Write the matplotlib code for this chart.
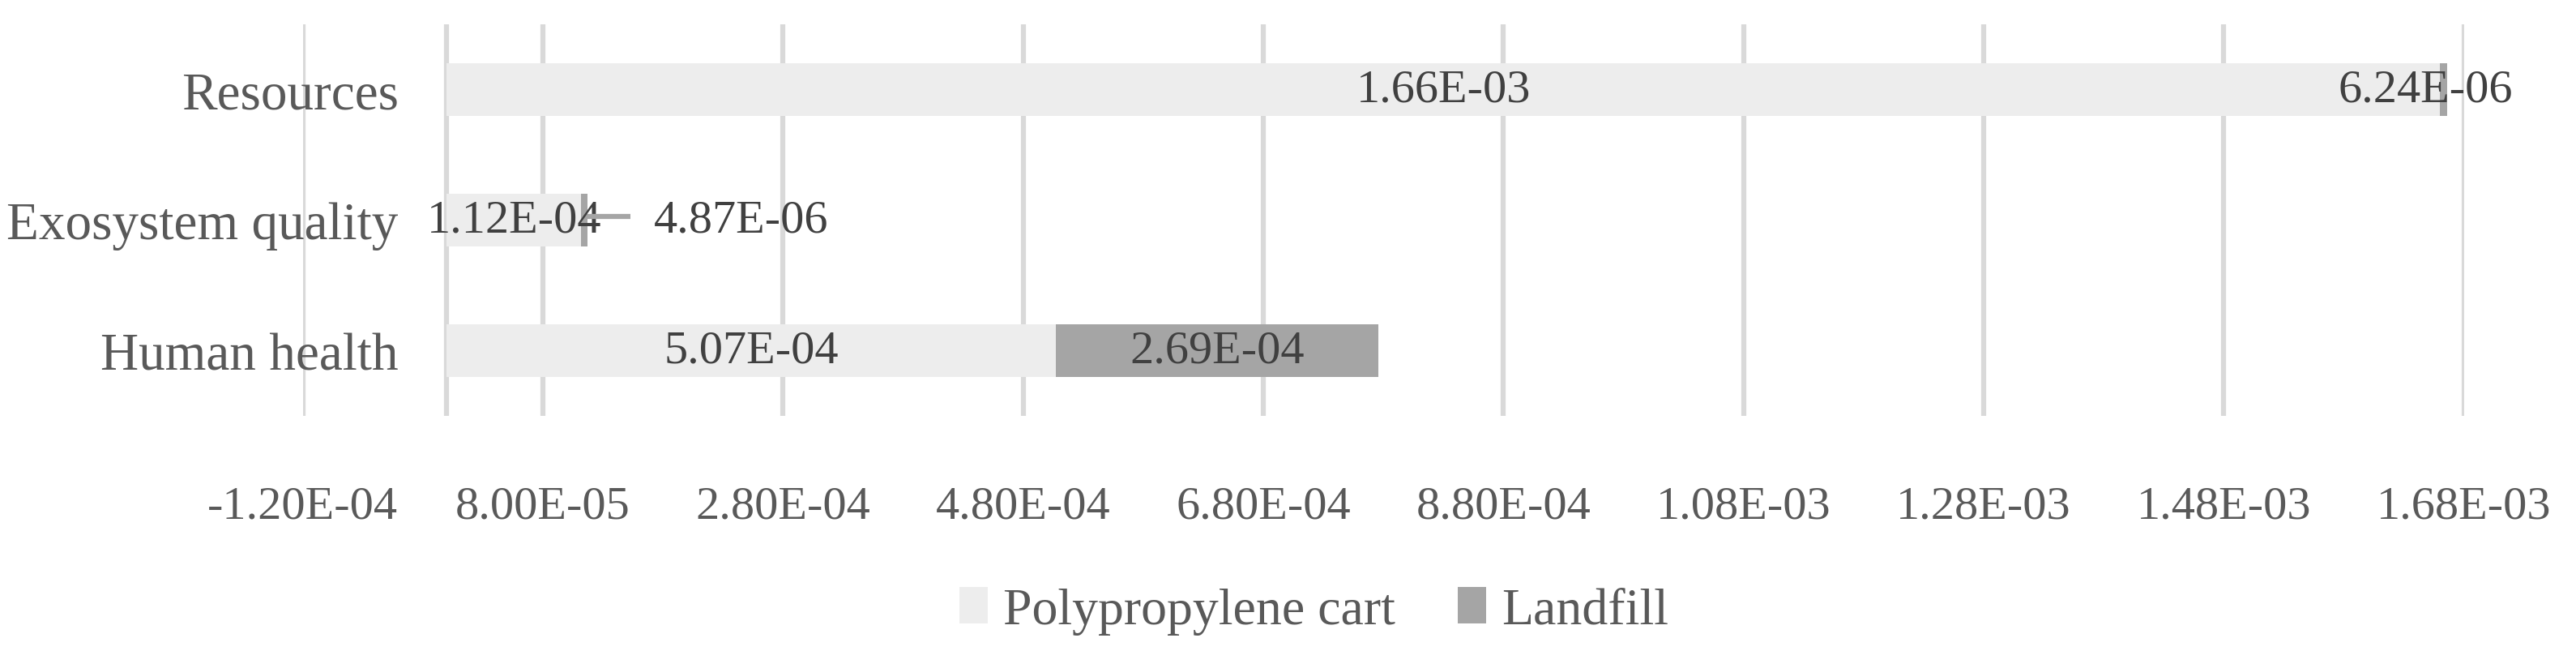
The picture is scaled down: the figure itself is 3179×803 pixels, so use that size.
import matplotlib
matplotlib.use("Agg")
import matplotlib.pyplot as plt
from matplotlib.ticker import FixedLocator, FuncFormatter
import numpy as np

# data
categories = ["Human health", "Exosystem quality", "Resources"]
pp_cart = [5.07e-4, 1.12e-4, 1.66e-3]
landfill = [2.69e-4, 4.87e-6, 6.24e-6]
series_names = ["Polypropylene cart", "Landfill"]
x_ticks = [-1.2e-4 + 2e-4 * i for i in range(10)]

plt.rcParams["font.family"] = ["Liberation Serif", "DejaVu Serif"]
plt.rcParams["font.size"] = 42

grid_c = "#D9D9D9"
label_c = "#595959"
data_c = "#404040"

fig = plt.figure(figsize=(31.79, 8.04), dpi=100)
left, right = 0.1175, 0.9565
ax = fig.add_axes([left, 0.361, right - left, 0.961 - 0.361])

y = np.arange(len(categories))
h = 0.405
b1 = ax.barh(y, pp_cart, h, color="#EDEDED", label=series_names[0], zorder=2)
b2 = ax.barh(y, landfill, h, left=pp_cart, color="#A5A5A5", label=series_names[1], zorder=2)

ax.set_xlim(x_ticks[0], x_ticks[-1])
ax.set_ylim(-0.5, 2.5)
ax.xaxis.set_major_locator(FixedLocator(x_ticks))
ax.xaxis.set_major_formatter(FuncFormatter(lambda v, p: "%.2E" % v))
ax.grid(axis="x", color=grid_c, lw=4.5, zorder=0)
ax.axvline(0, color=grid_c, lw=4.5, zorder=1)
for s in ax.spines.values():
    s.set_visible(False)
ax.tick_params(axis="both", length=0, colors=label_c)
ax.tick_params(axis="x", pad=62)
# category labels sit just left of the zero axis, over the first gridline
ax.tick_params(axis="y", pad=-85)
ax.set_yticks(y)
ax.set_yticklabels(categories, fontsize=47)

# data labels
for i in range(len(categories)):
    ax.text(pp_cart[i] / 2, y[i], "%.2E" % pp_cart[i], ha="center", va="center",
            color=data_c, zorder=3)
    if i == 1:
        # moved label with leader line
        ax.plot([pp_cart[i] + landfill[i], 1.53e-4], [y[i] + 0.03, y[i] + 0.03],
                color="#A5A5A5", lw=4.5, zorder=3, solid_capstyle="butt")
        ax.text(2.45e-4, y[i], "%.2E" % landfill[i], ha="center", va="center",
                color=data_c, zorder=3)
    else:
        shift = -22 if i == 2 else 0
        ax.annotate("%.2E" % landfill[i], (pp_cart[i] + landfill[i] / 2, y[i]),
                    xytext=(shift, 0), textcoords="offset pixels", ha="center",
                    va="center", color=data_c, zorder=3)

leg = fig.legend(handles=[b1, b2], loc="center", bbox_to_anchor=(0.51, 0.062), ncol=2,
                 frameon=False, fontsize=46, handlelength=0.55, handleheight=0.72,
                 handletextpad=0.3, columnspacing=1.2)
for t in leg.get_texts():
    t.set_color(label_c)

fig.savefig("out.png", dpi=100)
